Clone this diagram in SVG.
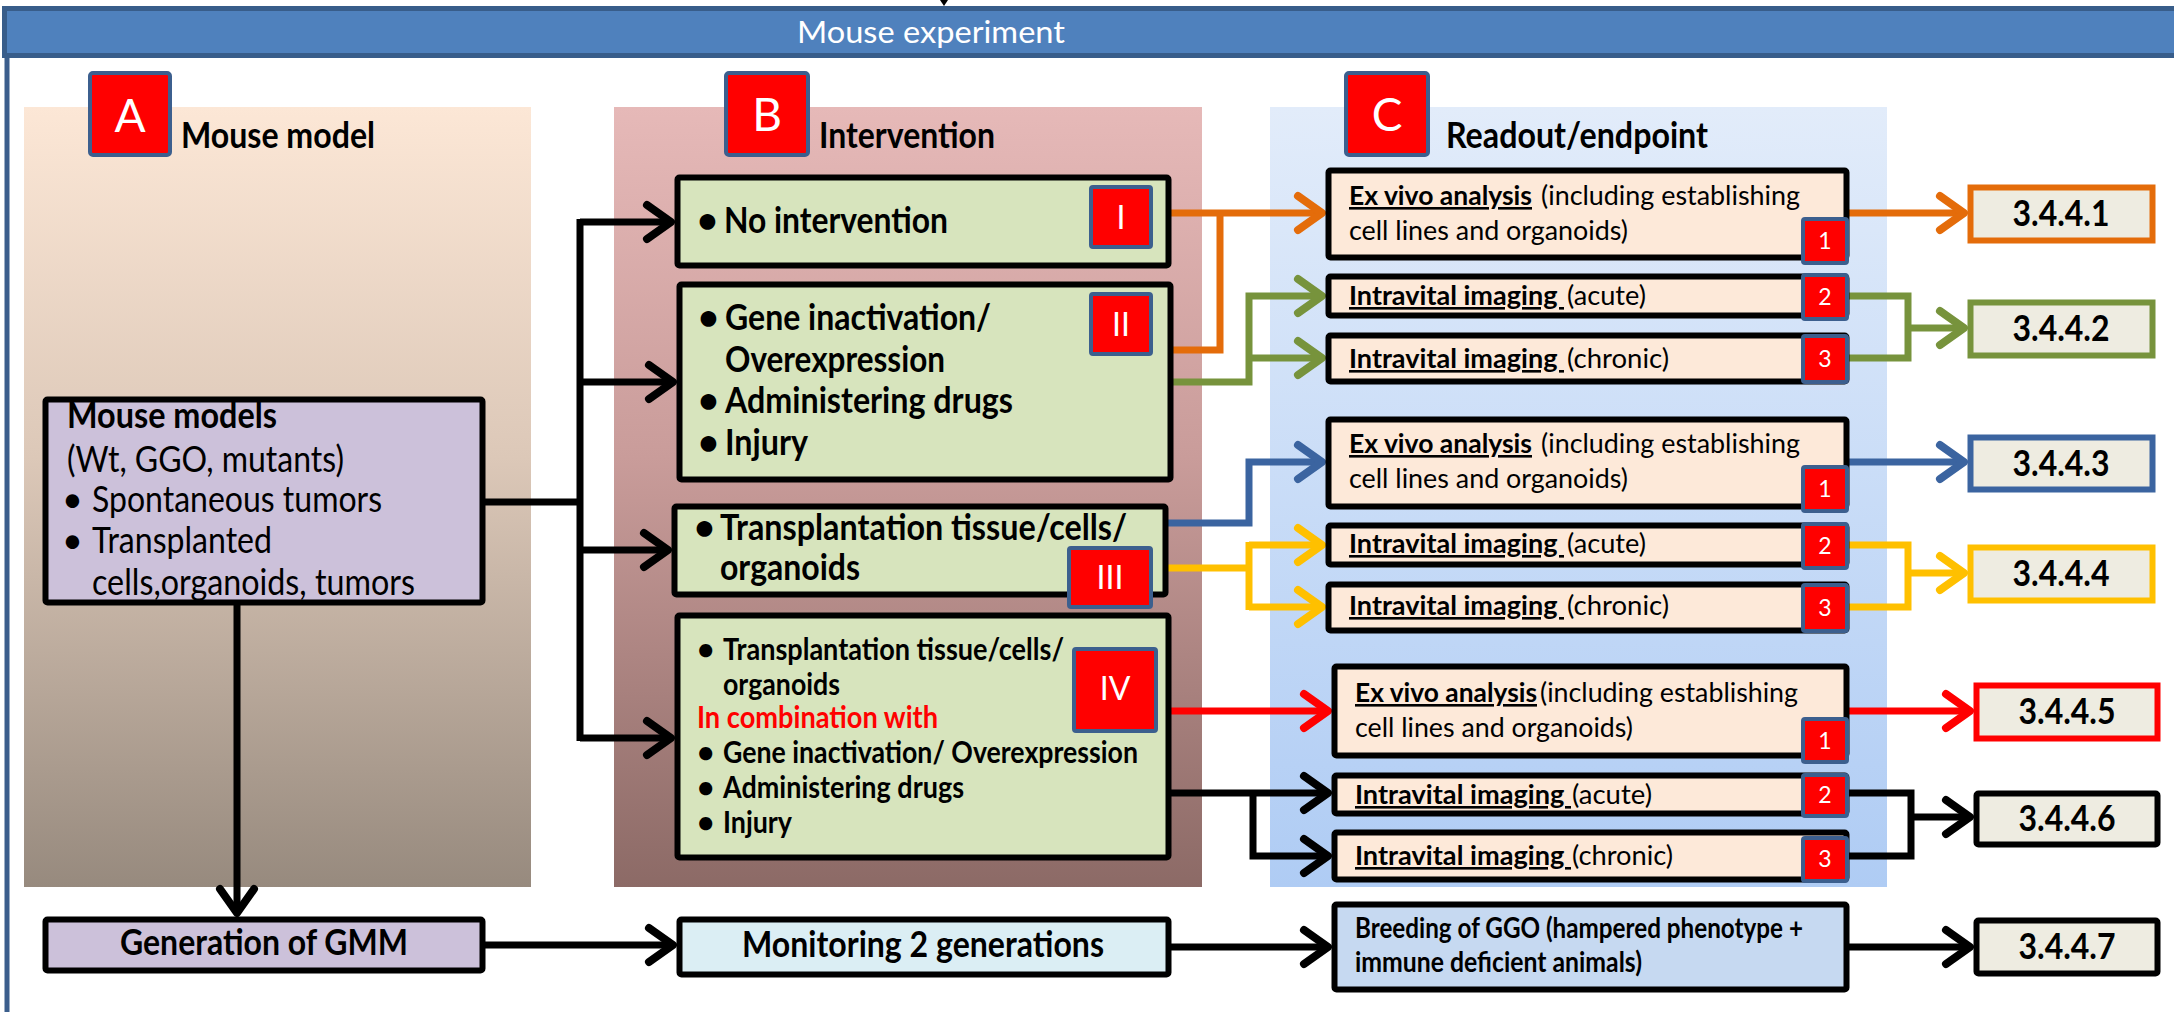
<svg xmlns="http://www.w3.org/2000/svg" width="2174" height="1012" viewBox="0 0 2174 1012">
<defs>
<linearGradient id="gA" x1="0" y1="0" x2="0" y2="1"><stop offset="0" stop-color="#FCE7D6"/><stop offset="0.45" stop-color="#DCC8B8"/><stop offset="1" stop-color="#978A7E"/></linearGradient>
<linearGradient id="gB" x1="0" y1="0" x2="0" y2="1"><stop offset="0" stop-color="#E6B9B8"/><stop offset="0.45" stop-color="#C99C9A"/><stop offset="1" stop-color="#8C6A66"/></linearGradient>
<linearGradient id="gC" x1="0" y1="0" x2="0" y2="1"><stop offset="0" stop-color="#E2ECFA"/><stop offset="1" stop-color="#AFCCF4"/></linearGradient>
<marker id="mK" markerUnits="userSpaceOnUse" viewBox="-30 -20 34 40" markerWidth="34" markerHeight="40" refX="0" refY="0" orient="auto" overflow="visible"><path d="M-24,-17 L0,0 L-24,17" fill="none" stroke="#000" stroke-width="8" stroke-linecap="round" stroke-linejoin="round"/></marker>
<marker id="mO" markerUnits="userSpaceOnUse" viewBox="-30 -20 34 40" markerWidth="34" markerHeight="40" refX="0" refY="0" orient="auto" overflow="visible"><path d="M-24,-17 L0,0 L-24,17" fill="none" stroke="#E46C0A" stroke-width="8" stroke-linecap="round" stroke-linejoin="round"/></marker>
<marker id="mG" markerUnits="userSpaceOnUse" viewBox="-30 -20 34 40" markerWidth="34" markerHeight="40" refX="0" refY="0" orient="auto" overflow="visible"><path d="M-24,-17 L0,0 L-24,17" fill="none" stroke="#77933C" stroke-width="8" stroke-linecap="round" stroke-linejoin="round"/></marker>
<marker id="mB" markerUnits="userSpaceOnUse" viewBox="-30 -20 34 40" markerWidth="34" markerHeight="40" refX="0" refY="0" orient="auto" overflow="visible"><path d="M-24,-17 L0,0 L-24,17" fill="none" stroke="#3B64A0" stroke-width="8" stroke-linecap="round" stroke-linejoin="round"/></marker>
<marker id="mY" markerUnits="userSpaceOnUse" viewBox="-30 -20 34 40" markerWidth="34" markerHeight="40" refX="0" refY="0" orient="auto" overflow="visible"><path d="M-24,-17 L0,0 L-24,17" fill="none" stroke="#FFC000" stroke-width="8" stroke-linecap="round" stroke-linejoin="round"/></marker>
<marker id="mR" markerUnits="userSpaceOnUse" viewBox="-30 -20 34 40" markerWidth="34" markerHeight="40" refX="0" refY="0" orient="auto" overflow="visible"><path d="M-24,-17 L0,0 L-24,17" fill="none" stroke="#FF0000" stroke-width="8" stroke-linecap="round" stroke-linejoin="round"/></marker>
</defs>
<style>
text{font-family:Lato,'Liberation Sans',sans-serif;fill:#000}
.b{font-weight:bold}
.f34{font-size:36px}
.f28{font-size:30px}
.c{font-size:27px}
.cb{font-size:26px;font-weight:bold;text-decoration:underline}
.w{fill:#fff}
.box{stroke:#000;stroke-width:6}
.badge{fill:#FF0000;stroke:#3C5F8E;stroke-width:4}
.ln{fill:none;stroke-width:7}
.k{stroke:#000}.o{stroke:#E46C0A}.g{stroke:#77933C}.bl{stroke:#3B64A0}.y{stroke:#FFC000}.r{stroke:#FF0000}
.res{fill:#EEECE1;stroke-width:6}
.rt{font-size:36px;font-weight:bold;text-anchor:middle}
.nt{font-size:23px;fill:#fff;text-anchor:middle}
</style>

<!-- frame -->
<g id="frame">
<line x1="7" y1="30" x2="7" y2="1012" stroke="#3B5E8C" stroke-width="5"/>
<rect x="4.5" y="8.5" width="2180" height="47" fill="#4F81BD" stroke="#385D8A" stroke-width="5"/>
<text x="797" y="43" class="w" font-size="31" textLength="268" lengthAdjust="spacingAndGlyphs">Mouse experiment</text>
</g>

<!-- panels -->
<g id="panelA"><rect x="24" y="107" width="507" height="780" fill="url(#gA)"/>
<rect x="90" y="73" width="80" height="82" rx="3" class="badge"/><text x="130" y="132" class="w" font-size="46" text-anchor="middle">A</text>
<text x="181" y="148" class="b f34" textLength="194" lengthAdjust="spacingAndGlyphs">Mouse model</text></g>
<g id="panelB"><rect x="614" y="107" width="588" height="780" fill="url(#gB)"/>
<rect x="726" y="73" width="82" height="82" rx="3" class="badge"/><text x="767" y="131" class="w" font-size="46" text-anchor="middle">B</text>
<text x="819" y="148" class="b f34" textLength="176" lengthAdjust="spacingAndGlyphs">Intervention</text></g>
<g id="panelC"><rect x="1270" y="107" width="617" height="780" fill="url(#gC)"/>
<rect x="1346" y="73" width="82" height="82" rx="3" class="badge"/><text x="1387" y="131" class="w" font-size="46" text-anchor="middle">C</text>
<text x="1446" y="148" class="b f34" textLength="262" lengthAdjust="spacingAndGlyphs">Readout/endpoint</text></g>

<!-- connectors -->
<g id="connectors">
<polygon points="940,0 948,0 944,6" fill="#000"/>
<path class="ln k" d="M485,502 H580"/>
<path class="ln k" d="M580,219 V741"/>
<path class="ln k" d="M580,222 H671" marker-end="url(#mK)"/>
<path class="ln k" d="M580,382 H673" marker-end="url(#mK)"/>
<path class="ln k" d="M580,550 H668" marker-end="url(#mK)"/>
<path class="ln k" d="M580,738 H671" marker-end="url(#mK)"/>
<path class="ln k" d="M237,605 V913" marker-end="url(#mK)"/>
<path class="ln k" d="M485,945 H673" marker-end="url(#mK)"/>
<path class="ln k" d="M1171,947 H1328" marker-end="url(#mK)"/>
<path class="ln k" d="M1849,947 H1970" marker-end="url(#mK)"/>

<path class="ln o" d="M1171,213 H1322" marker-end="url(#mO)"/>
<path class="ln o" d="M1173,350 H1220 V213"/>
<path class="ln o" d="M1849,213 H1964" marker-end="url(#mO)"/>

<path class="ln g" d="M1173,382 H1249 V296 H1322" marker-end="url(#mG)"/>
<path class="ln g" d="M1249,358 H1322" marker-end="url(#mG)"/>
<path class="ln g" d="M1849,296 H1908 V358 H1849"/>
<path class="ln g" d="M1908,328 H1964" marker-end="url(#mG)"/>

<path class="ln bl" d="M1168,523 H1249 V462 H1322" marker-end="url(#mB)"/>
<path class="ln bl" d="M1849,462 H1964" marker-end="url(#mB)"/>

<path class="ln y" d="M1168,568 H1249"/>
<path class="ln y" d="M1249,545 H1322" marker-end="url(#mY)"/>
<path class="ln y" d="M1249,542 V610"/>
<path class="ln y" d="M1249,607 H1322" marker-end="url(#mY)"/>
<path class="ln y" d="M1849,545 H1908 V607 H1849"/>
<path class="ln y" d="M1908,573 H1964" marker-end="url(#mY)"/>

<path class="ln r" d="M1171,711 H1328" marker-end="url(#mR)"/>
<path class="ln r" d="M1849,711 H1970" marker-end="url(#mR)"/>

<path class="ln k" d="M1171,793 H1328" marker-end="url(#mK)"/>
<path class="ln k" d="M1253,793 V856 H1328" marker-end="url(#mK)"/>
<path class="ln k" d="M1849,793 H1911 V856 H1849"/>
<path class="ln k" d="M1911,817 H1970" marker-end="url(#mK)"/>
</g>

<!-- A nodes -->
<g id="mouseModels">
<rect x="45.5" y="399.5" width="437" height="203" rx="2" fill="#CCC1DA" class="box"/>
<text x="67" y="428" class="b f34" textLength="210" lengthAdjust="spacingAndGlyphs">Mouse models</text>
<text x="67" y="472" class="f34" textLength="277" lengthAdjust="spacingAndGlyphs">(Wt, GGO, mutants)</text>
<text x="62" y="512" class="f34">•</text>
<text x="92" y="512" class="f34" textLength="290" lengthAdjust="spacingAndGlyphs">Spontaneous tumors</text>
<text x="62" y="553" class="f34">•</text>
<text x="92" y="553" class="f34" textLength="180" lengthAdjust="spacingAndGlyphs">Transplanted</text>
<text x="92" y="595" class="f34" textLength="323" lengthAdjust="spacingAndGlyphs">cells,organoids, tumors</text>
</g>
<g id="gmm">
<rect x="45.5" y="919.5" width="437" height="51" rx="2" fill="#CCC1DA" class="box"/>
<text x="120" y="955" class="b f34" textLength="288" lengthAdjust="spacingAndGlyphs">Generation of GMM</text>
</g>

<!-- B nodes -->
<g id="noIntervention">
<rect x="677.5" y="177.5" width="491" height="88" rx="2" fill="#D7E4BD" class="box"/>
<text x="697" y="233" class="b f34">•</text>
<text x="724" y="233" class="b f34" textLength="224" lengthAdjust="spacingAndGlyphs">No intervention</text>
<rect x="1091" y="187" width="60" height="60" rx="2" class="badge"/>
<text x="1121" y="229" class="w" font-size="32" text-anchor="middle">I</text>
</g>
<g id="geneInactivation">
<rect x="679.5" y="284.5" width="491" height="195" rx="2" fill="#D7E4BD" class="box"/>
<text x="698" y="330" class="b f34">•</text>
<text x="725" y="330" class="b f34" textLength="266" lengthAdjust="spacingAndGlyphs">Gene inactivation/</text>
<text x="725" y="372" class="b f34" textLength="220" lengthAdjust="spacingAndGlyphs">Overexpression</text>
<text x="698" y="413" class="b f34">•</text>
<text x="725" y="413" class="b f34" textLength="288" lengthAdjust="spacingAndGlyphs">Administering drugs</text>
<text x="698" y="455" class="b f34">•</text>
<text x="725" y="455" class="b f34" textLength="83" lengthAdjust="spacingAndGlyphs">Injury</text>
<rect x="1091" y="294" width="60" height="60" rx="2" class="badge"/>
<text x="1121" y="336" class="w" font-size="32" text-anchor="middle">II</text>
</g>
<g id="transplantation">
<rect x="674.5" y="506.5" width="491" height="88" rx="2" fill="#D7E4BD" class="box"/>
<text x="694" y="540" class="b f34">•</text>
<text x="720" y="540" class="b f34" textLength="407" lengthAdjust="spacingAndGlyphs">Transplantation tissue/cells/</text>
<text x="720" y="580" class="b f34" textLength="140" lengthAdjust="spacingAndGlyphs">organoids</text>
<rect x="1069" y="548" width="82" height="59" rx="2" class="badge"/>
<text x="1110" y="589" class="w" font-size="32" text-anchor="middle">III</text>
</g>
<g id="combination">
<rect x="677.5" y="615.5" width="491" height="242" rx="2" fill="#D7E4BD" class="box"/>
<text x="697" y="660" class="b f28">•</text>
<text x="723" y="660" class="b f28" textLength="341" lengthAdjust="spacingAndGlyphs">Transplantation tissue/cells/</text>
<text x="723" y="695" class="b f28" textLength="117" lengthAdjust="spacingAndGlyphs">organoids</text>
<text x="697" y="728" class="b f28" style="fill:#FF0000" textLength="241" lengthAdjust="spacingAndGlyphs">In combination with</text>
<text x="697" y="763" class="b f28">•</text>
<text x="723" y="763" class="b f28" textLength="415" lengthAdjust="spacingAndGlyphs">Gene inactivation/ Overexpression</text>
<text x="697" y="798" class="b f28">•</text>
<text x="723" y="798" class="b f28" textLength="241" lengthAdjust="spacingAndGlyphs">Administering drugs</text>
<text x="697" y="833" class="b f28">•</text>
<text x="723" y="833" class="b f28" textLength="69" lengthAdjust="spacingAndGlyphs">Injury</text>
<rect x="1074" y="649" width="82" height="82" rx="2" class="badge"/>
<text x="1115" y="700" class="w" font-size="32" text-anchor="middle">IV</text>
</g>
<g id="monitoring">
<rect x="679.5" y="919.5" width="489" height="55" rx="2" fill="#DBEEF4" class="box"/>
<text x="742" y="957" class="b f34" textLength="362" lengthAdjust="spacingAndGlyphs">Monitoring 2 generations</text>
</g>

<!-- C nodes -->
<g id="exVivo1">
<rect x="1328.5" y="170.5" width="518" height="87" rx="2" fill="#FDE9D9" class="box"/>
<text x="1349" y="205" class="cb" textLength="183" lengthAdjust="spacingAndGlyphs">Ex vivo analysis</text>
<text x="1541" y="205" class="c" textLength="259" lengthAdjust="spacingAndGlyphs">(including establishing</text>
<text x="1349" y="240" class="c" textLength="279" lengthAdjust="spacingAndGlyphs">cell lines and organoids)</text>
<rect x="1803" y="219" width="44" height="44" rx="2" class="badge"/><text x="1825" y="249" class="nt">1</text>
</g>
<g id="acute1">
<rect x="1328.5" y="276.5" width="518" height="39" rx="2" fill="#FDE9D9" class="box"/>
<text x="1349" y="305" class="cb" xml:space="preserve" textLength="215" lengthAdjust="spacingAndGlyphs">Intravital imaging </text>
<text x="1567" y="305" class="c" textLength="79" lengthAdjust="spacingAndGlyphs">(acute)</text>
<rect x="1803" y="275" width="44" height="44" rx="2" class="badge"/><text x="1825" y="305" class="nt">2</text>
</g>
<g id="chronic1">
<rect x="1328.5" y="335.5" width="518" height="46" rx="2" fill="#FDE9D9" class="box"/>
<text x="1349" y="368" class="cb" xml:space="preserve" textLength="215" lengthAdjust="spacingAndGlyphs">Intravital imaging </text>
<text x="1567" y="368" class="c" textLength="102" lengthAdjust="spacingAndGlyphs">(chronic)</text>
<rect x="1803" y="336" width="44" height="46" rx="2" class="badge"/><text x="1825" y="367" class="nt">3</text>
</g>
<g id="exVivo2">
<rect x="1328.5" y="419.5" width="518" height="87" rx="2" fill="#FDE9D9" class="box"/>
<text x="1349" y="453" class="cb" textLength="183" lengthAdjust="spacingAndGlyphs">Ex vivo analysis</text>
<text x="1541" y="453" class="c" textLength="259" lengthAdjust="spacingAndGlyphs">(including establishing</text>
<text x="1349" y="488" class="c" textLength="279" lengthAdjust="spacingAndGlyphs">cell lines and organoids)</text>
<rect x="1803" y="467" width="44" height="44" rx="2" class="badge"/><text x="1825" y="497" class="nt">1</text>
</g>
<g id="acute2">
<rect x="1328.5" y="525.5" width="518" height="39" rx="2" fill="#FDE9D9" class="box"/>
<text x="1349" y="553" class="cb" xml:space="preserve" textLength="215" lengthAdjust="spacingAndGlyphs">Intravital imaging </text>
<text x="1567" y="553" class="c" textLength="79" lengthAdjust="spacingAndGlyphs">(acute)</text>
<rect x="1803" y="524" width="44" height="44" rx="2" class="badge"/><text x="1825" y="554" class="nt">2</text>
</g>
<g id="chronic2">
<rect x="1328.5" y="584.5" width="518" height="46" rx="2" fill="#FDE9D9" class="box"/>
<text x="1349" y="615" class="cb" xml:space="preserve" textLength="215" lengthAdjust="spacingAndGlyphs">Intravital imaging </text>
<text x="1567" y="615" class="c" textLength="102" lengthAdjust="spacingAndGlyphs">(chronic)</text>
<rect x="1803" y="585" width="44" height="46" rx="2" class="badge"/><text x="1825" y="616" class="nt">3</text>
</g>
<g id="exVivo3">
<rect x="1334.5" y="666.5" width="512" height="89" rx="2" fill="#FDE9D9" class="box"/>
<text x="1355" y="702" class="cb" textLength="182" lengthAdjust="spacingAndGlyphs">Ex vivo analysis</text>
<text x="1540" y="702" class="c" textLength="258" lengthAdjust="spacingAndGlyphs">(including establishing</text>
<text x="1355" y="737" class="c" textLength="278" lengthAdjust="spacingAndGlyphs">cell lines and organoids)</text>
<rect x="1803" y="719" width="44" height="43" rx="2" class="badge"/><text x="1825" y="749" class="nt">1</text>
</g>
<g id="acute3">
<rect x="1334.5" y="775.5" width="512" height="38" rx="2" fill="#FDE9D9" class="box"/>
<text x="1355" y="804" class="cb" xml:space="preserve" textLength="216" lengthAdjust="spacingAndGlyphs">Intravital imaging </text>
<text x="1572" y="804" class="c" textLength="80" lengthAdjust="spacingAndGlyphs">(acute)</text>
<rect x="1803" y="775" width="44" height="41" rx="2" class="badge"/><text x="1825" y="803" class="nt">2</text>
</g>
<g id="chronic3">
<rect x="1334.5" y="832.5" width="512" height="47" rx="2" fill="#FDE9D9" class="box"/>
<text x="1355" y="865" class="cb" xml:space="preserve" textLength="216" lengthAdjust="spacingAndGlyphs">Intravital imaging </text>
<text x="1572" y="865" class="c" textLength="101" lengthAdjust="spacingAndGlyphs">(chronic)</text>
<rect x="1803" y="838" width="44" height="43" rx="2" class="badge"/><text x="1825" y="867" class="nt">3</text>
</g>
<g id="breeding">
<rect x="1334.5" y="904.5" width="512" height="85" rx="2" fill="#C6D9F1" class="box"/>
<text x="1355" y="938" class="b" font-size="28" textLength="448" lengthAdjust="spacingAndGlyphs">Breeding of GGO (hampered phenotype +</text>
<text x="1355" y="972" class="b" font-size="28" textLength="287" lengthAdjust="spacingAndGlyphs">immune deficient animals)</text>
</g>

<!-- result nodes -->
<g id="r1"><rect x="1970.5" y="187.5" width="182" height="53" class="res" stroke="#E46C0A"/><text x="2061" y="226" class="rt" textLength="97" lengthAdjust="spacingAndGlyphs">3.4.4.1</text></g>
<g id="r2"><rect x="1970.5" y="302.5" width="182" height="53" class="res" stroke="#77933C"/><text x="2061" y="341" class="rt" textLength="97" lengthAdjust="spacingAndGlyphs">3.4.4.2</text></g>
<g id="r3"><rect x="1970.5" y="437.5" width="182" height="52" class="res" stroke="#3B64A0"/><text x="2061" y="476" class="rt" textLength="97" lengthAdjust="spacingAndGlyphs">3.4.4.3</text></g>
<g id="r4"><rect x="1970.5" y="547.5" width="182" height="53" class="res" stroke="#FFC000"/><text x="2061" y="586" class="rt" textLength="97" lengthAdjust="spacingAndGlyphs">3.4.4.4</text></g>
<g id="r5"><rect x="1976.5" y="685.5" width="181" height="53" class="res" stroke="#FF0000"/><text x="2067" y="724" class="rt" textLength="97" lengthAdjust="spacingAndGlyphs">3.4.4.5</text></g>
<g id="r6"><rect x="1976.5" y="793.5" width="181" height="51" rx="2" class="res" stroke="#000"/><text x="2067" y="831" class="rt" textLength="97" lengthAdjust="spacingAndGlyphs">3.4.4.6</text></g>
<g id="r7"><rect x="1976.5" y="920.5" width="181" height="53" rx="2" class="res" stroke="#000"/><text x="2067" y="959" class="rt" textLength="97" lengthAdjust="spacingAndGlyphs">3.4.4.7</text></g>
</svg>
